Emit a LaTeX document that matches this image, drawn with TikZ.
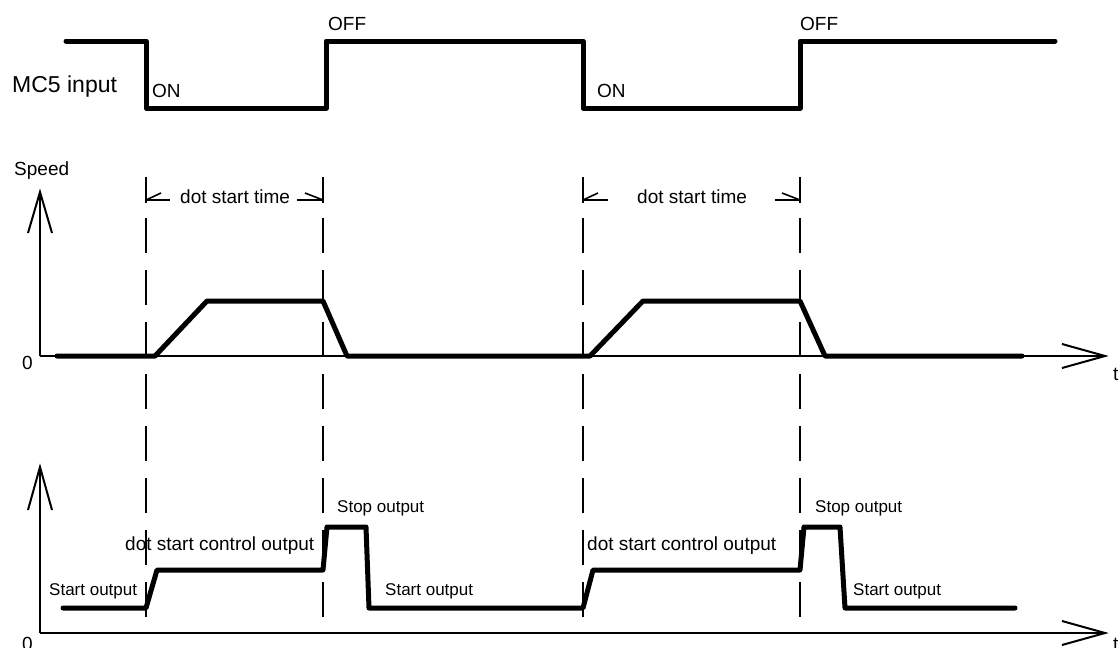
\documentclass[tikz,border=0pt]{standalone}
\usepackage{fontspec}
\setmainfont{Liberation Sans}
\begin{document}
\begin{tikzpicture}[x=1pt,y=-1pt,
  sig/.style={line width=5pt,line join=round,line cap=round},
  axisline/.style={line width=2pt},
  guide/.style={line width=1.8pt,dash pattern=on 35pt off 17pt},
  dimline/.style={line width=1.6pt},
  lbl/.style={inner sep=0pt,anchor=base west,font=\fontsize{19}{19}\selectfont},
  slbl/.style={inner sep=0pt,anchor=base west,font=\fontsize{17}{17}\selectfont},
  blbl/.style={inner sep=0pt,anchor=base west,font=\fontsize{23}{23}\selectfont},
]
\useasboundingbox (0,0) rectangle (1120,648);
\fill[white] (0,0) rectangle (1120,648);

% ---------- MC5 input signal ----------
\node[blbl] (mc5) at (12,92) {MC5 input};
\draw[sig] (66,41) -- (146,41) -- (146,108) -- (326,108) -- (326,41)
  -- (583,41) -- (583,108) -- (800,108) -- (800,41) -- (1055,41);
\node[lbl] (on1) at (152,97) {ON};
\node[lbl] (off1) at (328,30) {OFF};
\node[lbl] (on2) at (597,97) {ON};
\node[lbl] (off2) at (800,30) {OFF};

% ---------- speed axes ----------
\node[lbl] (speed) at (14,175) {Speed};
\coordinate (o1) at (40,356);
\coordinate (ytip1) at (40,192);
\coordinate (xtip1) at (1105,356);
\draw[axisline] (o1) -- (ytip1);
\draw[axisline] (28,233) -- (ytip1) -- (52,233);
\draw[axisline] (o1) -- (xtip1);
\draw[axisline] (1062,344) -- (xtip1) -- (1062,368);
\node[lbl] (zero1) at (22,369) {0};
\node[lbl] (t1) at (1113,380) {t};

% speed profile
\draw[sig] (57,356) -- (155,356) -- (207,301) -- (323,301) -- (347,356)
  -- (590,356) -- (643,301) -- (800,301) -- (825,356) -- (1022,356);

% ---------- guide lines ----------
\foreach \gx in {146,323,583,800}{
  \draw[guide] (\gx,218) -- (\gx,626);
  \draw[dimline] (\gx,177) -- (\gx,203);
}

% dot start time dimensions
\draw[dimline] (146,200) -- (170,200);
\draw[dimline] (146,200) -- (161,193);
\draw[dimline] (297,200) -- (323,200);
\draw[dimline] (323,200) -- (305,193);
\node[lbl] (dst1) at (180,203) {dot start time};
\draw[dimline] (583,200) -- (608,200);
\draw[dimline] (583,200) -- (598,193);
\draw[dimline] (775,200) -- (800,200);
\draw[dimline] (800,200) -- (782,193);
\node[lbl] (dst2) at (637,203) {dot start time};

% ---------- output axes ----------
\coordinate (o2) at (40,633);
\coordinate (ytip2) at (40,467);
\coordinate (xtip2) at (1105,633);
\draw[axisline] (o2) -- (ytip2);
\draw[axisline] (28,510) -- (ytip2) -- (52,510);
\draw[axisline] (o2) -- (xtip2);
\draw[axisline] (1062,621) -- (xtip2) -- (1062,645);
\node[lbl] (zero2) at (22,650) {0};
\node[lbl] (t2) at (1113,650) {t};

% output profile
\draw[sig] (63,608) -- (146,608) -- (157,570) -- (323,570) -- (327,527)
  -- (366,527) -- (369,608) -- (583,608) -- (593,570) -- (800,570)
  -- (804,527) -- (840,527) -- (845,608) -- (1015,608);

\node[slbl] (so1) at (49,595) {Start output};
\node[lbl] (dsc1) at (125,550) {dot start control output};
\node[slbl] (stp1) at (337,512) {Stop output};
\node[slbl] (so2) at (385,595) {Start output};
\node[lbl] (dsc2) at (587,550) {dot start control output};
\node[slbl] (stp2) at (815,512) {Stop output};
\node[slbl] (so3) at (853,595) {Start output};
\end{tikzpicture}
\end{document}
